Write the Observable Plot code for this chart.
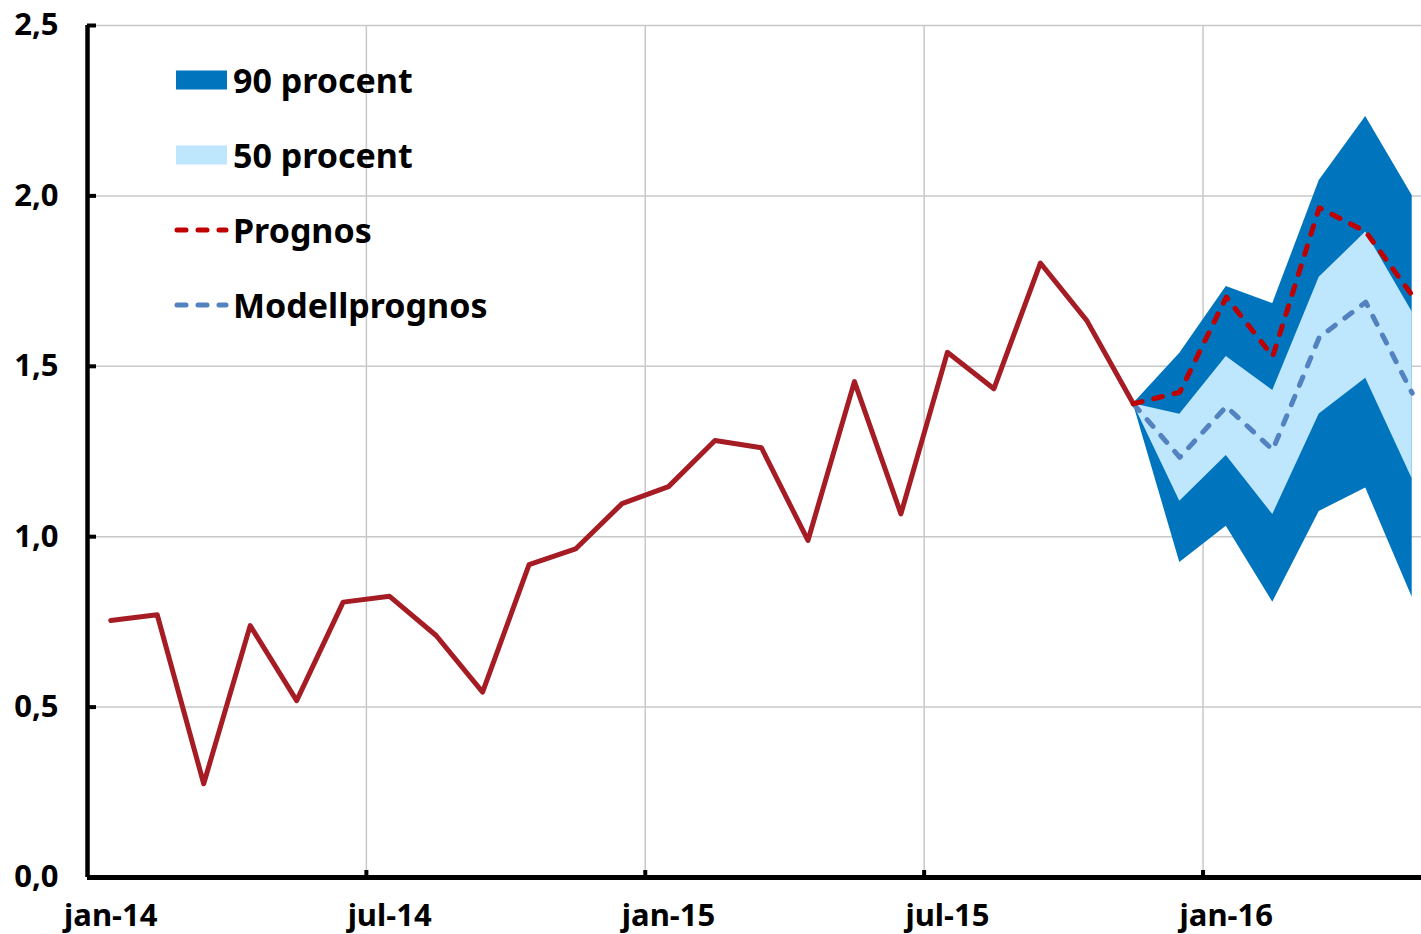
<!DOCTYPE html>
<html>
<head>
<meta charset="utf-8">
<script src="https://cdn.jsdelivr.net/npm/d3@7"></script>
<script src="https://cdn.jsdelivr.net/npm/@observablehq/plot@0.6"></script>
<style>
  body { margin: 0; background: #fff; }
  #wrap { position: relative; width: 1421px; height: 934px; font-family: "Noto Sans", sans-serif; font-weight: bold; }
  #wrap svg { display: block; }
  .leg { position: absolute; left: 174px; height: 40px; display: flex; align-items: center; font-size: 34px; color: #000; white-space: nowrap; }
  .leg svg { margin-right: 4px; }
</style>
</head>
<body>
<div id="wrap"></div>
<script>
// Months (category axis)
const months = [
  "jan-14","feb-14","mar-14","apr-14","maj-14","jun-14","jul-14","aug-14","sep-14","okt-14","nov-14","dec-14",
  "jan-15","feb-15","mar-15","apr-15","maj-15","jun-15","jul-15","aug-15","sep-15","okt-15","nov-15","dec-15",
  "jan-16","feb-16","mar-16","apr-16","maj-16"
];
// Outcome (jan-14 .. nov-15)
const utfall = [0.754,0.771,0.275,0.739,0.519,0.808,0.825,0.710,0.544,0.918,0.964,1.097,
                1.147,1.282,1.261,0.989,1.455,1.067,1.541,1.434,1.803,1.634,1.390];
// Forecast months (nov-15 .. maj-16)
const fcMonths = ["nov-15","dec-15","jan-16","feb-16","mar-16","apr-16","maj-16"];
const prognos = [1.390,1.424,1.703,1.529,1.965,1.895,1.708];
const modellprognos = [1.390,1.233,1.382,1.255,1.585,1.688,1.421];
const lo90 = [1.390,0.924,1.031,0.808,1.074,1.143,0.822];
const hi90 = [1.390,1.538,1.734,1.684,2.045,2.233,2.001];
const lo50 = [1.390,1.104,1.238,1.065,1.360,1.465,1.170];
const hi50 = [1.390,1.359,1.529,1.429,1.761,1.894,1.659];
// Axis ticks
const yTicks = [0, 0.5, 1, 1.5, 2, 2.5];
const xTickLabels = ["jan-14","jul-14","jan-15","jul-15","jan-16"];
const xGridAfter = ["jun-14","dec-14","jun-15","dec-15"]; // grid between these and next month

const idx = m => months.indexOf(m);
const actual = utfall.map((v, i) => ({x: i, v}));
const fc = fcMonths.map((m, i) => ({
  x: idx(m), p: prognos[i], m: modellprognos[i],
  lo90: lo90[i], hi90: hi90[i], lo50: lo50[i], hi50: hi50[i]
}));
const xGrid = xGridAfter.map(m => idx(m) + 0.5);
const xTicks = xTickLabels.map(idx);

const grid = "#c8c8c8";
const chart = Plot.plot({
  width: 1421,
  height: 934,
  marginLeft: 87,
  marginRight: 0,
  marginTop: 25,
  marginBottom: 57,
  style: {fontFamily: "Noto Sans", fontWeight: "bold", fontSize: "31px", color: "#000", background: "#fff"},
  x: {domain: [-0.5, 28.2], axis: null},
  y: {domain: [0, 2.5], axis: null},
  marks: [
    Plot.ruleY(yTicks.filter(d => d > 0), {stroke: grid, strokeWidth: 1.5}),
    Plot.ruleX(xGrid, {stroke: grid, strokeWidth: 1.5}),
    Plot.areaY(fc, {x: "x", y1: "lo90", y2: "hi90", fill: "#0075be", fillOpacity: 1}),
    Plot.areaY(fc, {x: "x", y1: "lo50", y2: "hi50", fill: "#bee6fd", fillOpacity: 1}),
    Plot.line(actual, {x: "x", y: "v", stroke: "#a51c24", strokeWidth: 5, strokeLinejoin: "round", strokeLinecap: "round"}),
    Plot.line(fc, {x: "x", y: "m", stroke: "#5282bf", strokeWidth: 5, strokeDasharray: "9,12", strokeLinecap: "round", strokeLinejoin: "round"}),
    Plot.line(fc, {x: "x", y: "p", stroke: "#c00000", strokeWidth: 5, strokeDasharray: "9,12", strokeLinecap: "round", strokeLinejoin: "round"}),
    // axis lines
    Plot.ruleX([-0.5], {stroke: "#000", strokeWidth: 4.5}),
    Plot.ruleY([0], {stroke: "#000", strokeWidth: 5}),
    // inward tick marks
    Plot.axisY({ticks: yTicks, tickSize: 9, dx: 9, tickFormat: () => "", label: null, stroke: "#000", strokeWidth: 4}),
    Plot.axisX({ticks: xGrid, tickSize: 7, dy: -7, tickFormat: () => "", label: null, stroke: "#000", strokeWidth: 4}),
    // tick labels
    Plot.axisY({ticks: yTicks, tickSize: 0, tickPadding: 29, tickFormat: d => d.toFixed(1).replace(".", ","), label: null, fontSize: 31, fontWeight: "bold"}),
    Plot.axisX({ticks: xTicks, tickSize: 0, tickPadding: 26, tickFormat: i => months[i], label: null, fontSize: 31, fontWeight: "bold"})
  ]
});
const wrap = document.getElementById("wrap");
wrap.appendChild(chart);

// Legend overlay
const legendItems = [
  {label: "90 procent", type: "rect", color: "#0075be", cy: 82},
  {label: "50 procent", type: "rect", color: "#bee6fd", cy: 157},
  {label: "Prognos", type: "dash", color: "#c00000", cy: 232},
  {label: "Modellprognos", type: "dash", color: "#5282bf", cy: 307}
];
for (const it of legendItems) {
  const d = document.createElement("div");
  d.className = "leg";
  d.style.top = (it.cy - 22) + "px";
  const sw = it.type === "rect"
    ? `<svg width="55" height="20"><rect x="2" y="0.5" width="51" height="19" fill="${it.color}"/></svg>`
    : `<svg width="55" height="20"><line x1="3" y1="10" x2="52" y2="10" stroke="${it.color}" stroke-width="5" stroke-linecap="round" stroke-dasharray="9,12"/></svg>`;
  d.innerHTML = sw + `<span>${it.label}</span>`;
  wrap.appendChild(d);
}
</script>
</body>
</html>
